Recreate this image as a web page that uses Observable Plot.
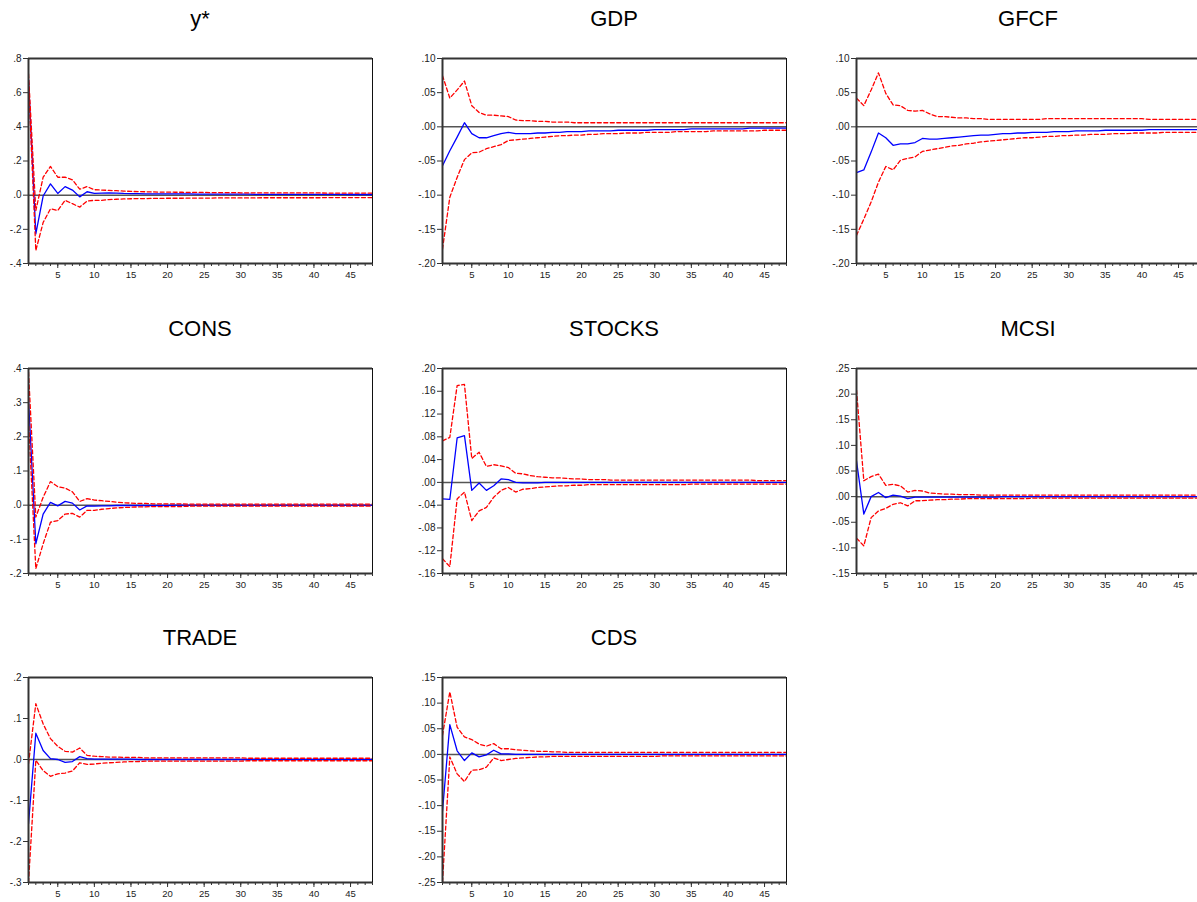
<!DOCTYPE html>
<html>
<head>
<meta charset="utf-8">
<script src="https://cdn.jsdelivr.net/npm/d3@7"></script>
<script src="https://cdn.jsdelivr.net/npm/@observablehq/plot@0.6"></script>
<style>
  html, body { margin: 0; padding: 0; background: #fff; }
  #page { position: relative; width: 1197px; height: 902px; overflow: hidden; background: #fff; }
  .ttl { position: absolute; width: 344px; text-align: center; font: 22px "Liberation Sans", Arial, sans-serif; line-height: 22px; color: #000; }
  .pnl { position: absolute; }
  .pnl svg { overflow: visible; max-width: none !important; display: block; }
</style>
</head>
<body>
<div id="page"></div>
<script>
const periods = d3.range(1, 49);

const titles = ["y*", "GDP", "GFCF", "CONS", "STOCKS", "MCSI", "TRADE", "CDS"];

// ---- y* ----
const ystarIRF = [.68,-.226,-.005,.066,.010,.050,.030,-.010,.020,.010,
 .012,.014,.012,.010,.009,.009,.008,.008,.008,.007,
 .007,.007,.007,.006,.006,.006,.006,.006,.006,.006,
 .006,.005,.005,.005,.005,.005,.005,.005,.005,.005,
 .005,.005,.005,.005,.004,.004,.004,.004];
const ystarHi = [.71,-.090,.105,.168,.105,.105,.090,.035,.050,.032,
 .030,.028,.026,.024,.022,.021,.020,.019,.018,.018,
 .017,.017,.016,.016,.016,.015,.015,.015,.015,.014,
 .014,.014,.014,.014,.013,.013,.013,.013,.013,.013,
 .013,.012,.012,.012,.012,.012,.012,.012];
const ystarLo = [.66,-.324,-.160,-.080,-.090,-.030,-.050,-.070,-.035,-.030,
 -.030,-.026,-.024,-.022,-.021,-.020,-.020,-.019,-.019,-.018,
 -.018,-.018,-.017,-.017,-.017,-.017,-.016,-.016,-.016,-.016,
 -.016,-.016,-.015,-.015,-.015,-.015,-.015,-.015,-.015,-.015,
 -.015,-.014,-.014,-.014,-.014,-.014,-.014,-.014];

// ---- GDP ----
const gdpIRF = [-.057,-.035,-.015,.006,-.010,-.016,-.016,-.013,-.010,-.008,
 -.010,-.010,-.010,-.009,-.009,-.008,-.008,-.007,-.007,-.007,
 -.006,-.006,-.006,-.006,-.005,-.005,-.005,-.005,-.005,-.004,
 -.004,-.004,-.004,-.004,-.003,-.003,-.003,-.003,-.003,-.003,
 -.003,-.003,-.002,-.002,-.002,-.002,-.002,-.002];
const gdpHi = [.075,.042,.054,.067,.031,.021,.017,.017,.016,.015,
 .010,.009,.009,.008,.008,.007,.007,.007,.006,.006,
 .006,.006,.006,.006,.006,.006,.006,.006,.006,.006,
 .006,.006,.006,.006,.006,.006,.006,.006,.006,.006,
 .006,.006,.006,.006,.006,.006,.006,.006];
const gdpLo = [-.179,-.103,-.074,-.048,-.038,-.037,-.032,-.029,-.026,-.020,
 -.019,-.018,-.017,-.016,-.015,-.014,-.013,-.013,-.012,-.012,
 -.011,-.011,-.010,-.010,-.010,-.009,-.009,-.009,-.008,-.008,
 -.008,-.008,-.007,-.007,-.007,-.007,-.007,-.006,-.006,-.006,
 -.006,-.006,-.006,-.006,-.005,-.005,-.005,-.005];

// ---- GFCF ----
const gfcfIRF = [-.067,-.063,-.037,-.009,-.016,-.027,-.025,-.025,-.023,-.017,
 -.018,-.018,-.017,-.016,-.015,-.014,-.013,-.012,-.012,-.011,
 -.010,-.010,-.009,-.009,-.008,-.008,-.008,-.007,-.007,-.007,
 -.006,-.006,-.006,-.006,-.005,-.005,-.005,-.005,-.005,-.005,
 -.004,-.004,-.004,-.004,-.004,-.004,-.004,-.004];
const gfcfHi = [.042,.031,.054,.079,.049,.032,.031,.024,.023,.024,
 .019,.015,.015,.014,.013,.013,.012,.012,.011,.011,
 .011,.011,.011,.011,.011,.011,.012,.012,.012,.012,
 .012,.012,.012,.012,.012,.012,.012,.012,.012,.012,
 .011,.011,.011,.011,.011,.011,.011,.011];
const gfcfLo = [-.159,-.135,-.110,-.081,-.058,-.063,-.049,-.046,-.044,-.036,
 -.034,-.032,-.030,-.028,-.027,-.025,-.024,-.022,-.021,-.020,
 -.019,-.018,-.017,-.016,-.016,-.015,-.014,-.014,-.013,-.013,
 -.012,-.012,-.011,-.011,-.011,-.010,-.010,-.010,-.009,-.009,
 -.009,-.009,-.008,-.008,-.008,-.008,-.008,-.008];

// ---- CONS ----
const consIRF = [.310,-.113,-.026,.008,-.002,.011,.006,-.014,-.002,-.003,
 -.002,-.002,-.001,-.001,-.001,-.001,-.001,-.001,-.001,-.001,
 0,0,0,0,0,0,0,0,0,0,
 0,0,0,0,0,0,0,0,0,0,
 0,0,0,0,0,0,0,0];
const consHi = [.390,-.035,.023,.069,.054,.050,.039,.011,.019,.015,
 .013,.011,.009,.007,.006,.005,.005,.004,.004,.004,
 .004,.004,.003,.003,.003,.003,.003,.003,.003,.003,
 .003,.003,.003,.003,.003,.003,.003,.003,.003,.003,
 .003,.003,.003,.003,.003,.003,.003,.003];
const consLo = [.250,-.186,-.113,-.050,-.045,-.026,-.024,-.035,-.015,-.015,
 -.012,-.010,-.008,-.007,-.006,-.005,-.005,-.004,-.004,-.004,
 -.004,-.004,-.003,-.003,-.003,-.003,-.003,-.003,-.003,-.003,
 -.003,-.003,-.003,-.003,-.003,-.003,-.003,-.003,-.003,-.003,
 -.003,-.003,-.003,-.003,-.003,-.003,-.003,-.003];

// ---- STOCKS ----
const stocksIRF = [-.029,-.030,.078,.082,-.014,-.001,-.014,-.006,.006,.005,
 .000,-.001,-.001,-.001,.000,0,0,0,0,0,
 0,0,0,0,0,0,0,0,0,0,
 0,0,0,0,0,0,0,0,0,0,
 0,0,0,0,0,0,0,0];
const stocksHi = [.073,.079,.170,.172,.042,.053,.028,.031,.029,.026,
 .016,.015,.012,.010,.009,.008,.008,.007,.006,.006,
 .005,.005,.005,.004,.004,.004,.004,.004,.004,.004,
 .004,.004,.004,.004,.004,.004,.004,.004,.004,.004,
 .004,.004,.004,.003,.003,.003,.003,.003];
const stocksLo = [-.134,-.148,-.029,-.017,-.067,-.050,-.044,-.026,-.014,-.009,
 -.017,-.012,-.011,-.009,-.008,-.007,-.006,-.006,-.005,-.005,
 -.004,-.004,-.004,-.004,-.004,-.004,-.004,-.004,-.004,-.004,
 -.004,-.004,-.004,-.004,-.003,-.003,-.003,-.003,-.003,-.003,
 -.003,-.003,-.003,-.003,-.003,-.003,-.003,-.003];

// ---- MCSI ----
const mcsiIRF = [.070,-.034,.000,.008,-.002,.003,.001,-.004,-.001,-.001,
 -.001,-.001,-.001,-.001,-.001,-.001,-.001,-.001,-.001,-.001,
 0,0,0,0,0,0,0,0,0,0,
 0,0,0,0,0,0,0,0,0,0,
 0,0,0,0,0,0,0,0];
const mcsiHi = [.208,.031,.039,.044,.022,.024,.021,.009,.012,.011,
 .007,.006,.005,.005,.004,.004,.004,.003,.003,.003,
 .003,.003,.003,.003,.003,.003,.003,.003,.003,.003,
 .003,.003,.003,.003,.003,.003,.003,.003,.003,.003,
 .003,.003,.003,.003,.003,.003,.003,.003];
const mcsiLo = [-.081,-.096,-.041,-.028,-.023,-.015,-.012,-.018,-.008,-.008,
 -.007,-.006,-.006,-.005,-.005,-.004,-.004,-.004,-.004,-.004,
 -.004,-.004,-.004,-.004,-.003,-.003,-.003,-.003,-.003,-.003,
 -.003,-.003,-.003,-.003,-.003,-.003,-.003,-.003,-.003,-.003,
 -.003,-.003,-.003,-.003,-.003,-.003,-.003,-.003];

// ---- TRADE ----
const tradeIRF = [-.157,.064,.022,.002,.000,-.007,-.005,.007,.002,.001,
 .001,.001,.001,.001,.001,0,0,0,0,0,
 0,0,0,0,0,0,0,0,0,0,
 0,0,0,0,0,0,0,0,0,0,
 0,0,0,0,0,0,0,0];
const tradeHi = [-.010,.136,.087,.051,.032,.020,.018,.028,.010,.008,
 .007,.006,.006,.005,.005,.005,.004,.004,.004,.004,
 .004,.004,.004,.004,.004,.004,.004,.004,.004,.004,
 .003,.003,.003,.003,.003,.003,.003,.003,.003,.003,
 .003,.003,.003,.003,.003,.003,.003,.003];
const tradeLo = [-.300,-.002,-.027,-.041,-.035,-.033,-.028,-.008,-.012,-.011,
 -.009,-.008,-.007,-.006,-.005,-.005,-.004,-.004,-.004,-.004,
 -.004,-.004,-.004,-.004,-.004,-.004,-.004,-.004,-.004,-.004,
 -.003,-.003,-.003,-.003,-.003,-.003,-.003,-.003,-.003,-.003,
 -.003,-.003,-.003,-.003,-.003,-.003,-.003,-.003];

// ---- CDS ----
const cdsIRF = [-.111,.058,.007,-.012,.003,-.005,-.001,.008,.001,.001,
 0,0,0,0,0,0,0,0,0,0,
 0,0,0,0,0,0,0,0,0,0,
 0,0,0,0,0,0,0,0,0,0,
 0,0,0,0,0,0,0,0];
const cdsHi = [.037,.122,.053,.034,.029,.020,.016,.021,.011,.011,
 .009,.008,.007,.006,.006,.005,.005,.004,.004,.004,
 .004,.004,.004,.004,.004,.004,.004,.004,.004,.004,
 .004,.004,.004,.004,.004,.004,.004,.004,.004,.004,
 .004,.004,.004,.004,.004,.004,.004,.004];
const cdsLo = [-.249,-.005,-.038,-.053,-.031,-.030,-.025,-.007,-.012,-.010,
 -.008,-.007,-.006,-.005,-.005,-.004,-.004,-.004,-.004,-.004,
 -.004,-.004,-.004,-.004,-.004,-.004,-.004,-.004,-.004,-.004,
 -.003,-.003,-.003,-.003,-.003,-.003,-.003,-.003,-.003,-.003,
 -.003,-.003,-.003,-.003,-.003,-.003,-.003,-.003];

// ---- y axis ticks (tick labels) per panel ----
const yTicks = [
  [-.4, -.2, 0, .2, .4, .6, .8],
  [-.20, -.15, -.10, -.05, 0, .05, .10],
  [-.20, -.15, -.10, -.05, 0, .05, .10],
  [-.2, -.1, 0, .1, .2, .3, .4],
  [-.16, -.12, -.08, -.04, 0, .04, .08, .12, .16, .20],
  [-.15, -.10, -.05, 0, .05, .10, .15, .20, .25],
  [-.3, -.2, -.1, 0, .1, .2],
  [-.25, -.20, -.15, -.10, -.05, 0, .05, .10, .15]
];
const yDecimals = [1, 2, 2, 1, 2, 2, 1, 2];
const xLabelTicks = [5, 10, 15, 20, 25, 30, 35, 40, 45];

const irfs = [ystarIRF, gdpIRF, gfcfIRF, consIRF, stocksIRF, mcsiIRF, tradeIRF, cdsIRF];
const his  = [ystarHi, gdpHi, gfcfHi, consHi, stocksHi, mcsiHi, tradeHi, cdsHi];
const los  = [ystarLo, gdpLo, gfcfLo, consLo, stocksLo, mcsiLo, tradeLo, cdsLo];

// layout
const plotLefts = [28, 442, 856];
const plotTops = [58, 368, 677];
const plotW = 344, plotH = 205;
const mL = 40, mR = 8, mT = 6, mB = 26;

const page = document.getElementById("page");
const font = '"Liberation Sans", Arial, sans-serif';

titles.forEach((title, k) => {
  const col = k % 3, row = Math.floor(k / 3);
  const left = plotLefts[col], top = plotTops[row];
  const ticks = yTicks[k];
  const dec = yDecimals[k];
  const fmt = d => {
    let s = Math.abs(d).toFixed(dec).replace(/^0\./, ".");
    return (d < -1e-9 ? "-" : "") + s;
  };
  const ymin = ticks[0], ymax = ticks[ticks.length - 1];
  const rows = periods.map((t, i) => ({ t, irf: irfs[k][i], hi: his[k][i], lo: los[k][i] }));
  const W = mL + plotW + mR, H = mT + plotH + mB;

  const chart = Plot.plot({
    width: W,
    height: H,
    marginLeft: mL, marginRight: mR, marginTop: mT, marginBottom: mB,
    style: { fontFamily: font, background: "transparent", overflow: "visible", maxWidth: "none" },
    x: { domain: [1, 48] },
    y: { domain: [ymin, ymax] },
    marks: [
      Plot.ruleY([0], { stroke: "#555", strokeWidth: 1.5 }),
      Plot.line(rows, { x: "t", y: "irf", stroke: "#0000ff", strokeWidth: 1.3, clip: true }),
      Plot.line(rows, { x: "t", y: "hi", stroke: "#ff0000", strokeWidth: 1.3, strokeDasharray: "4,2.5", clip: true }),
      Plot.line(rows, { x: "t", y: "lo", stroke: "#ff0000", strokeWidth: 1.3, strokeDasharray: "4,2.5", clip: true }),
      Plot.frame({ stroke: "#111", strokeWidth: 1 }),
      Plot.ruleX([1], { stroke: "#333", strokeWidth: 2 }),
      Plot.ruleY([ymin, ymax], { stroke: "#333", strokeWidth: 2 }),
      Plot.axisY({ ticks: ticks, tickFormat: fmt, tickSize: 5, tickPadding: 2, fontSize: 10, fill: "#222", stroke: "#333", label: null }),
      Plot.axisX({ ticks: periods, tickFormat: () => "", tickSize: 3, stroke: "#333", label: null }),
      Plot.axisX({ ticks: xLabelTicks, tickFormat: d => String(d), tickSize: 5, tickPadding: 3, fontSize: 9.5, fill: "#222", stroke: "#333", label: null })
    ]
  });

  const wrap = document.createElement("div");
  wrap.className = "pnl";
  wrap.style.left = (left - mL) + "px";
  wrap.style.top = (top - mT) + "px";
  wrap.style.width = W + "px";
  wrap.style.height = H + "px";
  wrap.appendChild(chart);
  page.appendChild(wrap);

  const t = document.createElement("div");
  t.className = "ttl";
  t.textContent = title;
  t.style.left = left + "px";
  t.style.top = (top - 50) + "px";
  page.appendChild(t);
});
</script>
</body>
</html>
